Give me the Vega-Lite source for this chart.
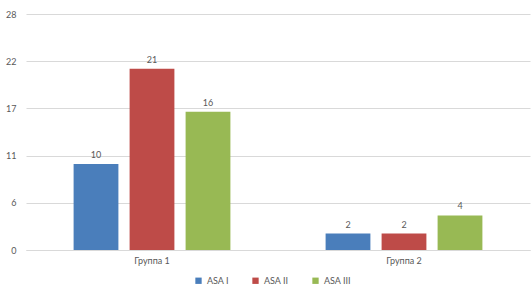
{
  "$schema": "https://vega.github.io/schema/vega-lite/v6.json",
  "autosize": "none",
  "width": 504,
  "height": 236,
  "padding": {"left": 26, "top": 14, "right": 2, "bottom": 40},
  "background": "white",
  "config": {"view": {"stroke": null}, "font": "Lato"},
  "data": {"values": [
    {"group": "Группа 1", "series": "ASA I", "value": 10.2, "label": "10"},
    {"group": "Группа 1", "series": "ASA II", "value": 21.5, "label": "21"},
    {"group": "Группа 1", "series": "ASA III", "value": 16.4, "label": "16"},
    {"group": "Группа 2", "series": "ASA I", "value": 1.95, "label": "2"},
    {"group": "Группа 2", "series": "ASA II", "value": 1.95, "label": "2"},
    {"group": "Группа 2", "series": "ASA III", "value": 4.1, "label": "4"}
  ]},
  "encoding": {
    "x": {"field": "group", "type": "nominal", "scale": {"paddingInner": 0, "paddingOuter": 0},
      "axis": {"title": null, "labelAngle": 0, "labelFontSize": 9, "labelColor": "#595959", "ticks": false, "domainColor": "#d9d9d9", "labelPadding": 6}},
    "xOffset": {"field": "series", "type": "nominal", "sort": ["ASA I", "ASA II", "ASA III"], "scale": {"paddingInner": 0.2, "paddingOuter": 0.85}},
    "y": {"field": "value", "type": "quantitative", "scale": {"domain": [0, 28], "nice": false},
      "axis": {"title": null, "values": [0, 5.6, 11.2, 16.8, 22.4, 28], "format": ".0f", "domain": false, "ticks": false, "gridColor": "#d9d9d9", "labelFontSize": 9, "labelColor": "#595959", "labelPadding": 10}}
  },
  "layer": [
    {"mark": {"type": "bar"},
     "encoding": {"color": {"field": "series", "type": "nominal", "sort": ["ASA I", "ASA II", "ASA III"],
       "scale": {"domain": ["ASA I", "ASA II", "ASA III"], "range": ["#4a7ebb", "#be4b48", "#98b954"]},
       "legend": {"title": null, "orient": "none", "direction": "horizontal", "legendX": 168, "legendY": 262, "symbolType": "square", "symbolSize": 40, "labelFontSize": 9, "labelColor": "#595959", "columnPadding": 22}}}},
    {"mark": {"type": "text", "dy": -9, "fontSize": 9, "color": "#595959"},
     "encoding": {"text": {"field": "label"}}}
  ]
}
